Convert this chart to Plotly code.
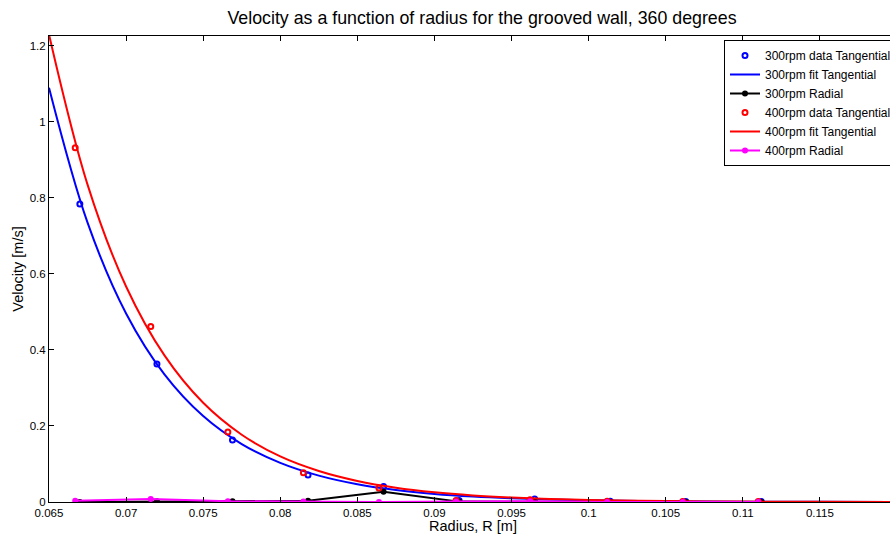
import plotly.graph_objects as go

# Radial positions [m]
r_300 = [0.0670, 0.0720, 0.0769, 0.0818, 0.0867, 0.0916, 0.0965, 0.1014, 0.1063, 0.1112]
r_400 = [0.0667, 0.0716, 0.0766, 0.0815, 0.0864, 0.0914, 0.0962, 0.1012, 0.1061, 0.1110]

# Measured velocities [m/s]
v_300_tan = [0.784, 0.363, 0.163, 0.071, 0.041, 0.004, 0.008, 0.002, 0.001, 0.001]
v_300_rad = [0.000, 0.002, 0.002, 0.003, 0.027, 0.001, 0.001, 0.000, 0.000, 0.000]
v_400_tan = [0.932, 0.462, 0.184, 0.077, 0.037, 0.004, 0.006, 0.002, 0.001, 0.001]
v_400_rad = [0.003, 0.008, 0.002, 0.001, 0.000, 0.001, 0.002, 0.000, 0.000, 0.000]

# Fitted curves
r_fit = [0.065, 0.0675, 0.070, 0.0725, 0.075, 0.0775, 0.080, 0.0825, 0.085, 0.0875,
         0.090, 0.0925, 0.095, 0.0975, 0.100, 0.105, 0.110, 0.115, 0.121]
v_300_fit = [1.09, 0.735, 0.496, 0.335, 0.226, 0.1525, 0.103, 0.0694, 0.0468, 0.0316,
             0.0213, 0.0144, 0.0097, 0.0065, 0.0044, 0.0020, 0.0009, 0.0004, 0.0002]
v_400_fit = [1.23, 0.835, 0.567, 0.385, 0.261, 0.177, 0.120, 0.0817, 0.0555, 0.0377,
             0.0256, 0.0174, 0.0118, 0.0080, 0.0054, 0.0025, 0.0011, 0.0005, 0.0002]

x_ticks = [0.065, 0.07, 0.075, 0.08, 0.085, 0.09, 0.095, 0.1, 0.105, 0.11, 0.115]
x_labels = ["0.065", "0.07", "0.075", "0.08", "0.085", "0.09", "0.095", "0.1", "0.105", "0.11", "0.115"]
y_ticks = [0, 0.2, 0.4, 0.6, 0.8, 1.0, 1.2]
y_labels = ["0", "0.2", "0.4", "0.6", "0.8", "1", "1.2"]

FONT = "Liberation Sans, Arial, sans-serif"
W, H = 898, 534
L, R, T, B = 49, 1, 36, 32
PW, PH = W - L - R, H - T - B

fig = go.Figure()
fig.add_trace(go.Scatter(x=r_300, y=v_300_tan, mode="markers", name="300rpm data Tangential",
                         marker=dict(symbol="circle-open", size=5, color="#0000ff", line=dict(width=2, color="#0000ff"))))
fig.add_trace(go.Scatter(x=r_fit, y=v_300_fit, mode="lines", name="300rpm fit Tangential",
                         line=dict(color="#0000ff", width=2, shape="spline")))
fig.add_trace(go.Scatter(x=r_300, y=v_300_rad, mode="lines+markers", name="300rpm Radial",
                         line=dict(color="#000000", width=2), marker=dict(size=6, color="#000000")))
fig.add_trace(go.Scatter(x=r_400, y=v_400_tan, mode="markers", name="400rpm data Tangential",
                         marker=dict(symbol="circle-open", size=5, color="#ff0000", line=dict(width=2, color="#ff0000"))))
fig.add_trace(go.Scatter(x=r_fit, y=v_400_fit, mode="lines", name="400rpm fit Tangential",
                         line=dict(color="#ff0000", width=2, shape="spline")))
fig.add_trace(go.Scatter(x=r_400, y=v_400_rad, mode="lines+markers", name="400rpm Radial",
                         line=dict(color="#ff00ff", width=2), marker=dict(size=6, color="#ff00ff")))

axis_common = dict(showline=True, linecolor="black", linewidth=1, mirror="ticks",
                   ticks="inside", ticklen=5, tickcolor="black", showgrid=False, zeroline=False,
                   automargin=False,
                   tickfont=dict(family=FONT, size=11.5, color="black"))

fig.update_layout(
    width=W, height=H,
    margin=dict(l=L, r=R, t=T, b=B, autoexpand=False),
    paper_bgcolor="white", plot_bgcolor="white",
    font=dict(family=FONT, color="black"),
    title=dict(text="Velocity as a function of radius for the grooved wall, 360 degrees",
               x=482 / W, xanchor="center", y=1 - 18 / H, yanchor="middle",
               font=dict(size=17.8, color="black")),
    xaxis=dict(range=[0.065, 0.12], tickvals=x_ticks, ticktext=x_labels,
               title=dict(text="Radius, R [m]", font=dict(size=14.5), standoff=0), **axis_common),
    yaxis=dict(range=[0, 1.226], tickvals=y_ticks, ticktext=y_labels,
               title=dict(text="Velocity [m/s]", font=dict(size=14.5), standoff=2), **axis_common),
    legend=dict(x=(724 - L) / PW, y=1 - 4 / PH, xanchor="left", yanchor="top", bgcolor="white",
                bordercolor="black", borderwidth=1, font=dict(size=12, family=FONT),
                tracegroupgap=0, itemwidth=30),
    showlegend=True,
)

fig.write_html("out.html", config={"displayModeBar": False},
               post_script="document.body.style.margin='0';document.body.style.overflow='hidden';")
